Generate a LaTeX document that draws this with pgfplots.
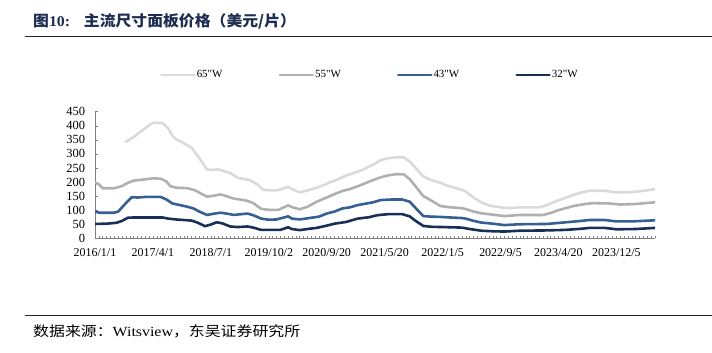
\documentclass[border=0pt]{standalone}
\usepackage{pgfplots}
\pgfplotsset{compat=1.18}
\usepackage{fontspec}
\setmainfont{Liberation Serif}
\newfontfamily\plainserif{Liberation Serif}
\newfontfamily\cjk{Noto Sans CJK SC}
\definecolor{cA}{RGB}{218,218,218}
\definecolor{cB}{RGB}{176,176,177}
\definecolor{cC}{RGB}{54,96,148}
\definecolor{cD}{RGB}{24,48,86}
\definecolor{titlec}{RGB}{30,46,80}
\begin{document}
\begin{tikzpicture}
\path[use as bounding box] (0,0) rectangle (712bp,-353bp);
\node[anchor=west,text=titlec,inner sep=0pt,xscale=1.06,font=\fontsize{15}{15}\selectfont] at (33bp,-21.7bp) {{\cjk\bfseries 图}{\bfseries 10:}\hspace{13bp}{\cjk\bfseries 主流尺寸面板价格（美元/片）}};
\draw[line width=1.3bp,black!85] (25bp,-36.7bp) -- (712bp,-36.7bp);
\draw[line width=1bp,black!85] (25bp,-315bp) -- (712bp,-315bp);
\node[anchor=west,inner sep=0pt,xscale=1.14,font=\fontsize{14}{14}\selectfont] at (33bp,-331bp) {{\cjk 数据来源：}Witsview{\cjk ，东吴证券研究所}};
\begin{axis}[
  at={(95bp,-238.3bp)}, anchor=south west,
  scale only axis, width=560bp, height=126.6bp,
  xmin=0, xmax=145, ymin=0, ymax=450,
  axis x line*=bottom, axis y line*=left,
  axis line style={-, gray},
  tick align=inside,
  xtick={0,15,...,135},
  xticklabels={2016/1/1,2017/4/1,2018/7/1,2019/10/2,2020/9/20,2021/5/20,2022/1/5,2022/9/5,2023/4/20,2023/12/5},
  minor xtick={0,1,...,145},
  ytick={0,50,...,450},
  major tick length=2.7bp, minor tick length=2.7bp,
  every tick/.style={gray, line width=0.5bp},
  /pgf/number format/assume math mode=true,
  xticklabel style={font=\fontsize{12}{12}\selectfont, yshift=-7bp},
  yticklabel style={font=\fontsize{12.5}{12.5}\selectfont, xshift=-6.5bp},
  legend columns=4,
  legend style={draw=none, fill=none, inner sep=0pt, at={(0.116,1.29)}, anchor=west,
    font=\plainserif\fontsize{11}{11}\selectfont,
    nodes={inner sep=1bp},
    /tikz/every even column/.append style={column sep=55bp},
    /tikz/every odd column/.append style={column sep=0bp}},
  legend image code/.code={\draw[#1] (0bp,0bp) -- (33bp,0bp);},
  every axis plot/.append style={line width=2.6bp, line join=round, line cap=round},
]
\addplot[cA] coordinates {(8,343) (10,360) (12,381) (14,402) (15,410) (16,411) (17.5,409) (19,390) (20,365) (21,352) (23,338) (25,322) (27,285) (29,245) (30,243) (32,245) (33,240) (35,232) (37,215) (40,207) (42,192) (43.6,172) (47,170) (49,178) (50,183) (51,175) (53,163) (55,170) (57,178) (59,188) (61,200) (63,210) (65,223) (67,232) (69,242) (71,255) (72,261) (74,278) (76,285) (78,288) (80,287) (81.5,273) (83,250) (85,220) (87,207) (89.4,198) (91,188) (93,180) (95,172) (96,166) (98,145) (100,128) (102,117) (104,112) (107,107) (110,110) (115,110) (117,118) (119,130) (121,140) (124,155) (126,163) (128,169) (132,169) (135,163) (138,163) (141,167) (145,175)};
\addlegendentry{65"W}
\addplot[cB] coordinates {(0,198) (1,192) (2,178) (5,178) (7,186) (8.5,197) (10,205) (12,208) (15,213) (17,212) (18.5,202) (19.5,185) (21,180) (24,178) (26,170) (28,155) (29,148) (31,152) (32.5,156) (34,150) (36,141) (38,137) (39.5,133) (41,125) (43,105) (45,101) (47.5,101) (50,117) (51,111) (53,103) (55,112) (57.4,130) (60,145) (62,157) (64,168) (66,175) (68,185) (70,196) (72,207) (74,217) (76,224) (78,228) (80,227) (81.5,210) (83,185) (85,150) (87,135) (89.4,115) (92,110) (95,107) (96,104) (98,95) (100,89) (103,84) (106,79) (110,83) (116,83) (118,90) (120,100) (124,115) (127,122) (129,125) (133,124) (136,120) (140,122) (145,128)};
\addlegendentry{55"W}
\addplot[cC] coordinates {(0,96) (1,91) (5,91) (6,95) (8,125) (9.5,146) (11,145) (13,147) (17,147) (18.5,138) (20,124) (22,118) (24,112) (25.5,106) (27,95) (29,83) (31,88) (32.5,91) (34,88) (36,83) (38,86) (39.5,88) (41,82) (43,70) (45,66) (47,67) (50,78) (51,70) (53,67) (56,73) (58,77) (60,88) (62,95) (64,106) (66,110) (68,118) (70,123) (72,128) (74,136) (77,138) (79.5,138) (81.5,130) (83,108) (85,79) (87,77) (89.4,76) (92,74) (95,72) (96,70) (98,62) (100,56) (103,52) (106,47) (110,50) (117,51) (122,57) (126,62) (128,65) (132,65) (135,60) (139,60) (145,64)};
\addlegendentry{43"W}
\addplot[cD] coordinates {(0,51) (3,52) (5.5,55) (7,62) (8.5,73) (10,74) (17.5,74) (19,70) (21,67) (25,63) (26.5,56) (28.5,43) (30,49) (31.5,57) (33,53) (35,42) (37,40) (39.5,42) (41,38) (43,30) (48,30) (50,39) (51,33) (53,29) (55,33) (57.4,37) (60,45) (62,52) (65,58) (68,70) (71,75) (73,82) (76,86) (79.5,86) (81.5,78) (83,62) (85,44) (87,41) (90,40) (95,38) (97,33) (100,27) (103,25) (106,24) (110,27) (117,28) (122,30) (126,34) (128,37) (132,37) (135,32) (140,33) (145,37)};
\addlegendentry{32"W}
\end{axis}
\end{tikzpicture}
\end{document}
